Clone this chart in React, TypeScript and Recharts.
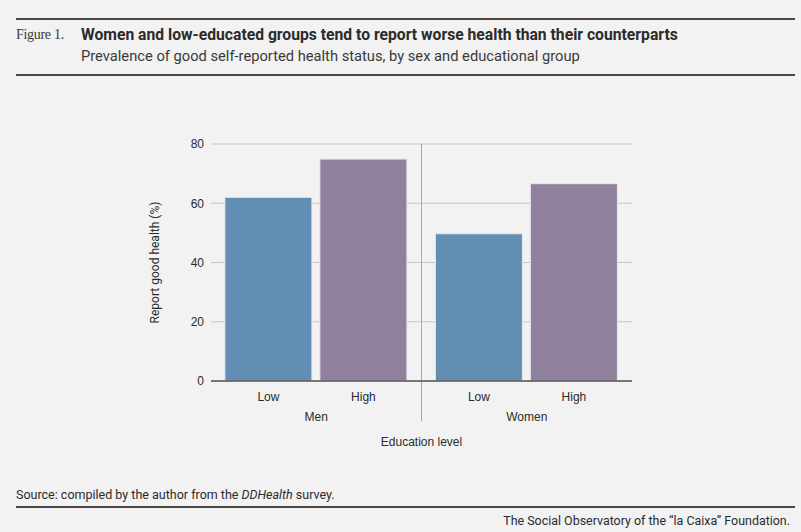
import React from 'react';
import { BarChart, Bar, XAxis, YAxis, CartesianGrid, ReferenceLine, LabelList } from 'recharts';

const GROUPS = ['Men', 'Women'];
const LOW_EDU = [62, 49.7];
const HIGH_EDU = [74.9, 66.6];
const Y_TICKS = [0, 20, 40, 60, 80];

const data = GROUPS.map((group, i) => ({ group, low: LOW_EDU[i], high: HIGH_EDU[i] }));

const NARROW = 'Roboto, sans-serif';
const SANS = '"Liberation Sans", Arial, sans-serif';
const INK = '#2b2b2b';
const RULE = '#4a4543';

// "Low" / "High" under each bar, placed from the bar's own geometry
function levelLabel(text: string) {
  return (props: any) => {
    const { x, y, width, height } = props;
    return (
      <text x={x + width / 2} y={y + height + 20} textAnchor="middle" fontSize={12} fill={INK} fontFamily={SANS}>
        {text}
      </text>
    );
  };
}

function GroupTick(props: any) {
  const { x, y, payload } = props;
  return (
    <text x={x} y={y} dy={32} textAnchor="middle" fontSize={12} fill={INK} fontFamily={SANS}>
      {payload.value}
    </text>
  );
}

export default function App() {
  return (
    <div style={{ position: 'fixed', left: 0, top: 0, width: 801, height: 532, background: '#f2f2f2', overflow: 'hidden' }}>
      <div style={{ position: 'absolute', left: 16, right: 6, top: 18, height: 2, background: RULE }} />
      <div style={{ position: 'absolute', left: 16, top: 27, fontFamily: '"Liberation Serif", "DejaVu Serif", serif', fontSize: 14, color: '#3a3a3a', letterSpacing: -0.3 }}>
        Figure 1.
      </div>
      <div style={{ position: 'absolute', left: 81, top: 25, fontFamily: NARROW, fontSize: 15.7, fontWeight: 700, color: INK, whiteSpace: 'nowrap' }}>
        Women and low-educated groups tend to report worse health than their counterparts
      </div>
      <div style={{ position: 'absolute', left: 81, top: 47, fontFamily: NARROW, fontSize: 14.7, color: '#3a3a3a', whiteSpace: 'nowrap' }}>
        Prevalence of good self-reported health status, by sex and educational group
      </div>
      <div style={{ position: 'absolute', left: 16, right: 6, top: 74, height: 2, background: RULE }} />

      <div style={{ position: 'absolute', left: 0, top: 0 }}>
        <BarChart
          width={801}
          height={532}
          data={data}
          margin={{ top: 144, right: 169, bottom: 86, left: 151 }}
          barCategoryGap="6.6%"
          barGap={8}
        >
          <CartesianGrid vertical={false} stroke="#c6c6c6" />
          <XAxis
            dataKey="group"
            tickLine={false}
            axisLine={{ stroke: '#555', strokeWidth: 1.5 }}
            tick={<GroupTick />}
            height={65}
            interval={0}
            label={{ value: 'Education level', position: 'insideBottom', offset: 0, fontSize: 12, fill: INK, fontFamily: SANS }}
          />
          <YAxis
            domain={[0, 80]}
            ticks={Y_TICKS}
            width={60}
            tickLine={false}
            tickSize={5}
            axisLine={false}
            tick={{ fontSize: 12, fill: INK, fontFamily: SANS }}
            label={{ value: 'Report good health (%)', angle: -90, position: 'insideLeft', offset: 4, fontSize: 12, fill: INK, fontFamily: NARROW, style: { textAnchor: 'middle' } }}
          />
          <ReferenceLine
            segment={[{ x: 'Women', y: 80 }, { x: 'Women', y: -13.5 }]}
            position="start"
            ifOverflow="visible"
            stroke="#a8a8a8"
          />
          <Bar dataKey="low" fill="#628eb3" stroke="#e4e8ee" strokeWidth={1} isAnimationActive={false}>
            <LabelList dataKey="low" content={levelLabel('Low')} />
          </Bar>
          <Bar dataKey="high" fill="#8f809c" stroke="#e8e4ec" strokeWidth={1} isAnimationActive={false}>
            <LabelList dataKey="high" content={levelLabel('High')} />
          </Bar>
        </BarChart>
      </div>

      <div style={{ position: 'absolute', left: 16, top: 487, fontFamily: NARROW, fontSize: 12.5, color: INK, whiteSpace: 'nowrap' }}>
        Source: compiled by the author from the <i>DDHealth</i> survey.
      </div>
      <div style={{ position: 'absolute', left: 16, right: 6, top: 506, height: 2, background: RULE }} />
      <div style={{ position: 'absolute', right: 11, top: 513, fontFamily: NARROW, fontSize: 12.45, color: INK, whiteSpace: 'nowrap' }}>
        The Social Observatory of the “la Caixa” Foundation.
      </div>
    </div>
  );
}
